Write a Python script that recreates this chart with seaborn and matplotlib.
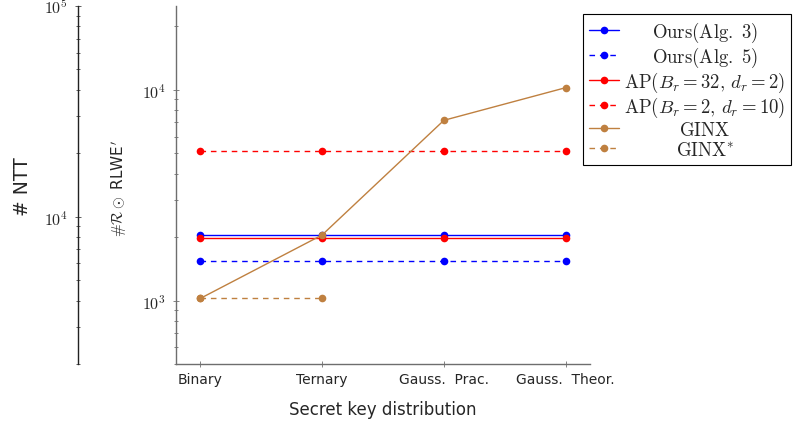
import numpy as np
import matplotlib
matplotlib.use("Agg")
import matplotlib.pyplot as plt
import seaborn as sns
from matplotlib.ticker import LogLocator, FuncFormatter, NullFormatter

# Secret key distributions on the x axis
distributions = ["Binary", "Ternary", "Gauss.  Prac.", "Gauss.  Theor."]

# Number of R (.) RLWE' products per blind-rotation variant
ours_alg3 = [2048, 2048, 2048, 2048]
ours_alg5 = [1536, 1536, 1536, 1536]
ap_br32_dr2 = [1980, 1980, 1980, 1980]
ap_br2_dr10 = [5120, 5120, 5120, 5120]
ginx = [1024, 2048, 7168, 10240]
ginx_star = [1024, 1024]

labels = [
    r"$\mathrm{Ours(Alg.\ 3)}$",
    r"$\mathrm{Ours(Alg.\ 5)}$",
    r"$\mathrm{AP}(B_r=32,\,d_r=2)$",
    r"$\mathrm{AP}(B_r=2,\,d_r=10)$",
    r"$\mathrm{GINX}$",
    r"$\mathrm{GINX}^{*}$",
]

sns.set_style("white")
plt.rcParams["font.family"] = ["DejaVu Sans"]
plt.rcParams["mathtext.fontset"] = "cm"

BLUE, RED, BROWN = "#0000ff", "#ff0000", "#bf8040"
DASH = (0, (4, 3.5))

series = [
    (labels[0], ours_alg3, BLUE, "-"),
    (labels[1], ours_alg5, BLUE, DASH),
    (labels[2], ap_br32_dr2, RED, "-"),
    (labels[3], ap_br2_dr10, RED, DASH),
    (labels[4], ginx, BROWN, "-"),
    (labels[5], ginx_star, BROWN, DASH),
]

W, H = 793, 431
fig = plt.figure(figsize=(W / 100, H / 100), dpi=100)
ax = fig.add_axes([176 / W, 66 / H, 414 / W, 358 / H])
ax_ntt = fig.add_axes([78 / W, 66 / H, 0.0005, 358 / H])

for label, vals, color, ls in series:
    sns.lineplot(
        x=distributions[: len(vals)], y=vals, ax=ax, color=color,
        linestyle=ls, linewidth=1.0, marker="o", markersize=5.5,
        markeredgecolor=color, markeredgewidth=0, label=label,
        sort=False, estimator=None,
    )

sci = FuncFormatter(lambda v, p: r"$10^{%d}$" % round(np.log10(v)))
spine_grey = "#6e6e6e"

# main axis
ax.set_yscale("log")
ax.set_ylim(500, 25000)
ax.set_xlim(-0.2, 3.2)
ax.yaxis.set_major_locator(LogLocator(base=10, numticks=10))
ax.yaxis.set_minor_locator(LogLocator(base=10, subs=np.arange(2, 10), numticks=20))
ax.yaxis.set_major_formatter(sci)
ax.yaxis.set_minor_formatter(NullFormatter())
for s in ("top", "right"):
    ax.spines[s].set_visible(False)
for s in ("left", "bottom"):
    ax.spines[s].set_color(spine_grey)
    ax.spines[s].set_linewidth(1.0)
ax.tick_params(axis="x", which="major", bottom=True, direction="inout",
               length=5, width=0.6, color=spine_grey, labelsize=10)
ax.tick_params(axis="y", which="major", left=True, direction="inout",
               length=5, width=0.6, color=spine_grey, labelsize=11.5, pad=5)
ax.tick_params(axis="y", which="minor", left=True, direction="inout",
               length=3.5, width=0.6, color=spine_grey)
ax.set_xlabel("Secret key distribution", fontsize=12, labelpad=10)
ax.set_ylabel(r"$\#\mathcal{R}\odot$ RLWE$'$", fontsize=11)
ax.yaxis.set_label_coords(129 / W, (H - 188) / H, transform=fig.transFigure)

# NTT count axis
ax_ntt.set_yscale("log")
ax_ntt.set_ylim(2000, 100000)
ax_ntt.yaxis.set_major_locator(LogLocator(base=10, numticks=10))
ax_ntt.yaxis.set_minor_locator(LogLocator(base=10, subs=np.arange(2, 10), numticks=20))
ax_ntt.yaxis.set_major_formatter(sci)
ax_ntt.yaxis.set_minor_formatter(NullFormatter())
ax_ntt.xaxis.set_visible(False)
for s in ("top", "right", "bottom"):
    ax_ntt.spines[s].set_visible(False)
ax_ntt.spines["left"].set_color("#222222")
ax_ntt.spines["left"].set_linewidth(1.0)
ax_ntt.tick_params(axis="y", which="major", left=True, direction="inout",
                   length=5, width=0.6, color="#444444", labelsize=11.5, pad=5)
ax_ntt.tick_params(axis="y", which="minor", left=True, direction="inout",
                   length=3.5, width=0.6, color="#444444")
ax_ntt.set_ylabel("# NTT", fontsize=13.5)
ax_ntt.yaxis.set_label_coords(32 / W, (H - 187) / H, transform=fig.transFigure)

# legend with centred entry texts
leg = ax.legend(
    loc="upper left", bbox_to_anchor=(583 / W, 1 - 15 / H),
    bbox_transform=fig.transFigure, frameon=True, fancybox=False,
    edgecolor="black", framealpha=1, fontsize=13.5, handlelength=1.6,
    handletextpad=0.3, borderpad=0.3, labelspacing=0.05, borderaxespad=0,
)
leg.get_frame().set_linewidth(0.8)
fig.canvas.draw()
texts = leg.get_texts()
widths = [t.get_window_extent().width for t in texts]
wmax = max(widths)
for t, w in zip(texts, widths):
    t.set_x((wmax - w) / 2)

fig.savefig("out.png", dpi=100)
